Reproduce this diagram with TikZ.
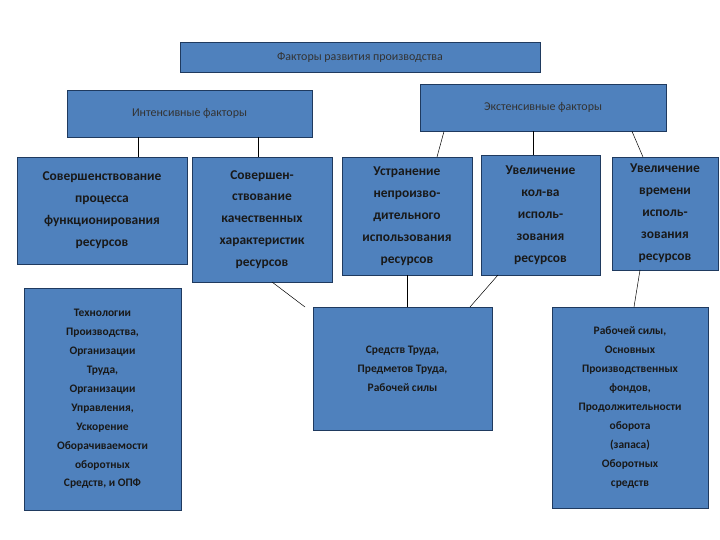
\documentclass[tikz,border=0pt]{standalone}
\usepackage{fontspec}
\setmainfont{Carlito}
\usetikzlibrary{positioning}
\definecolor{boxblue}{HTML}{4F81BD}
\definecolor{boxline}{HTML}{1F3A5F}
\tikzset{
    header/.style={rectangle, draw=boxline, fill=boxblue, line width=0.8pt, text=black!80, align=center, font=\fontsize{12}{14}\selectfont, inner sep=0pt},
    factor/.style={rectangle, draw=boxline, fill=boxblue, line width=0.8pt, text=black!90, align=center, font=\fontsize{13.5}{22}\selectfont\bfseries, inner sep=0pt},
    detail/.style={rectangle, draw=boxline, fill=boxblue, line width=0.8pt, text=black!90, align=center, font=\fontsize{11.5}{19}\selectfont\bfseries, inner sep=0pt},
    link/.style={black, line width=0.5pt}
}
\begin{document}
\begin{tikzpicture}[x=1bp, y=-1bp]
    \useasboundingbox (0,0) rectangle (720,540);
    % headers
    \node (main) [header, minimum width=360bp, minimum height=30bp] at (360,57) {Факторы развития производства};
    \node (intens) [header, minimum width=245bp, minimum height=47bp] at (189.5,113.5) {Интенсивные факторы};
    \node (extens) [header, minimum width=246bp, minimum height=47bp] at (543,107.5) {Экстенсивные факторы};
    % factors
    \node (proc) [factor, minimum width=170bp, minimum height=107bp] at (102,210.5) {Совершенствование\\процесса\\функционирования\\ресурсов};
    \node (qual) [factor, minimum width=140bp, minimum height=125bp] at (262,219.5) {Совершен-\\ствование\\качественных\\характеристик\\ресурсов};
    \node (waste) [factor, minimum width=130bp, minimum height=118bp] at (407,216) {Устранение\\непроизво-\\дительного\\использования\\ресурсов};
    \node (count) [factor, minimum width=119bp, minimum height=120bp] at (540.5,215) {Увеличение\\кол-ва\\исполь-\\зования\\ресурсов};
    \node (time) [factor, minimum width=106bp, minimum height=113bp] at (665,213.5) {Увеличение\\времени\\исполь-\\зования\\ресурсов};
    % details
    \node (tech) [detail, minimum width=157bp, minimum height=222bp] at (102.5,399) {Технологии\\Производства,\\Организации\\Труда,\\Организации\\Управления,\\Ускорение\\Оборачиваемости\\оборотных\\Средств, и ОПФ};
    \node (means) [detail, minimum width=179bp, minimum height=123bp] at (402.5,368.5) {Средств Труда,\\Предметов Труда,\\Рабочей силы};
    \node (labor) [detail, minimum width=156bp, minimum height=201bp] at (630,407.5) {Рабочей силы,\\Основных\\Производственных\\фондов,\\Продолжительности\\оборота\\(запаса)\\Оборотных\\средств};
    % links
    \draw [link] (intens.south -| 138,0) -- (proc.north -| 138,0);
    \draw [link] (intens.south -| 258,0) -- (qual.north -| 258,0);
    \draw [link] (extens.south -| 444,0) -- (437,157);
    \draw [link] (extens.south -| 533,0) -- (count.north -| 533,0);
    \draw [link] (extens.south -| 632,0) -- (643,157);
    \draw [link] (272,282) -- (305,307);
    \draw [link] (waste.south) -- (means.north -| waste.south);
    \draw [link] (498,275) -- (470,307);
    \draw [link] (640,270) -- (634,307);
\end{tikzpicture}
\end{document}
